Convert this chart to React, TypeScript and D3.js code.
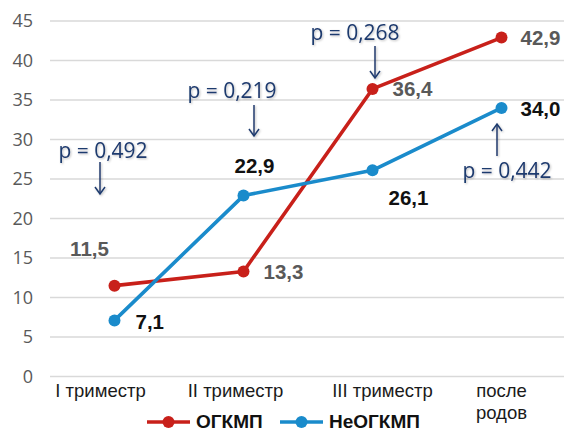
import React from "react";
import * as d3 from "d3";

const categories = ["I триместр", "II триместр", "III триместр", "после родов"];
const ogkmp = [11.5, 13.3, 36.4, 42.9];
const neogkmp = [7.1, 22.9, 26.1, 34.0];
const yTicks = [0, 5, 10, 15, 20, 25, 30, 35, 40, 45];
const pLabels = ["p = 0,492", "p = 0,219", "p = 0,268", "p = 0,442"];
const seriesNames = ["ОГКМП", "НеОГКМП"];

const W = 564, H = 431;
const RED = "#C8201A";
const BLUE = "#1A8BCB";
const NAVY = "#1F3A6E";

export default function App() {
  const x = d3.scaleBand().domain(categories).range([50, 566]);
  const y = d3.scaleLinear().domain([0, 45]).range([376.5, 21]);
  const cx = (i: number) => (x(categories[i]) as number) + x.bandwidth() / 2;
  const line = d3.line<number>().x((_, i) => cx(i)).y((d) => y(d));

  const fmt = (v: number) => v.toFixed(1).replace(".", ",");

  const catShift = [-14, -8, 10, 0];

  // label offsets (relative to point)
  const redLbl: [number, number, string][] = [
    [-25, -37, "middle"], [20, 0, "start"], [20, 0, "start"], [19, 0, "start"],
  ];
  const blueLbl: [number, number, string][] = [
    [21, 1, "start"], [11, -30, "middle"], [36, 27, "middle"], [19, 1, "start"],
  ];
  // p annotations: text pos, arrow from/to
  const pAnn = [
    { tx: 103, ty: 150, ax: 100, a1: 162, a2: 194 },
    { tx: 232, ty: 90, ax: 254, a1: 105, a2: 136 },
    { tx: 355, ty: 32, ax: 375, a1: 46, a2: 78 },
    { tx: 507, ty: 170, ax: 497, a1: 156, a2: 124 },
  ];

  return (
    <svg width={W} height={H} style={{ display: "block", position: "absolute", left: 0, top: 0 }}
      fontFamily="'Liberation Sans', Arial, sans-serif">
      <defs>
        <filter id="sh" x="-10%" y="-20%" width="130%" height="160%">
          <feDropShadow dx="1" dy="1" stdDeviation="0.8" floodColor="#000" floodOpacity="0.25" />
        </filter>
      </defs>
      <rect width={W} height={H} fill="#fff" />
      {yTicks.map((t) => (
        <g key={t}>
          <line x1={50} x2={564} y1={y(t)} y2={y(t)} stroke="#d9d9d9" strokeWidth={1.3} />
          <text x={33} y={y(t)} dy="0.36em" textAnchor="end" fontSize={18} fill="#595959"
            fontFamily="'Open Sans', 'Liberation Sans', sans-serif">{t}</text>
        </g>
      ))}
      {categories.map((c, i) => {
        const parts = c === "после родов" ? ["после", "родов"] : [c];
        const px = cx(i) + catShift[i];
        return (
          <text key={c} x={px} y={390} textAnchor="middle" fontSize={18.5} fill="#1a1a1a">
            {parts.map((p, j) => (
              <tspan key={j} x={px} dy={j === 0 ? "0.36em" : 22}>{p}</tspan>
            ))}
          </text>
        );
      })}
      <path d={line(ogkmp) || ""} fill="none" stroke={RED} strokeWidth={3.6} strokeLinejoin="round" />
      <path d={line(neogkmp) || ""} fill="none" stroke={BLUE} strokeWidth={3.6} strokeLinejoin="round" />
      {ogkmp.map((v, i) => (
        <circle key={"r" + i} cx={cx(i)} cy={y(v)} r={6} fill={RED} />
      ))}
      {neogkmp.map((v, i) => (
        <circle key={"b" + i} cx={cx(i)} cy={y(v)} r={6} fill={BLUE} />
      ))}
      {ogkmp.map((v, i) => (
        <text key={"rl" + i} x={cx(i) + redLbl[i][0]} y={y(v) + redLbl[i][1]} dy="0.36em"
          textAnchor={redLbl[i][2] as any} fontSize={20.5} fontWeight="bold" fill="#595959">{fmt(v)}</text>
      ))}
      {neogkmp.map((v, i) => (
        <text key={"bl" + i} x={cx(i) + blueLbl[i][0]} y={y(v) + blueLbl[i][1]} dy="0.36em"
          textAnchor={blueLbl[i][2] as any} fontSize={20.5} fontWeight="bold" fill="#111">{fmt(v)}</text>
      ))}
      {pAnn.map((a, i) => {
        const dir = a.a2 > a.a1 ? 1 : -1;
        return (
          <g key={"p" + i} filter="url(#sh)">
            <text x={a.tx} y={a.ty} dy="0.36em" textAnchor="middle" fontSize={21} fill={NAVY}
              fontFamily="'Open Sans', 'Liberation Sans', sans-serif">{pLabels[i]}</text>
            <line x1={a.ax} x2={a.ax} y1={a.a1} y2={a.a2} stroke={NAVY} strokeWidth={1.5} />
            <path d={`M${a.ax - 5},${a.a2 - dir * 7} L${a.ax},${a.a2} L${a.ax + 5},${a.a2 - dir * 7}`}
              fill="none" stroke={NAVY} strokeWidth={1.5} />
          </g>
        );
      })}
      {/* legend */}
      {seriesNames.map((n, i) => {
        const x0 = i === 0 ? 147 : 280;
        const col = i === 0 ? RED : BLUE;
        return (
          <g key={n}>
            <line x1={x0} x2={x0 + 43} y1={422} y2={422} stroke={col} strokeWidth={3.6} />
            <circle cx={x0 + 21.5} cy={422} r={6} fill={col} />
            <text x={x0 + 49} y={421} dy="0.36em" fontSize={19} fontWeight="bold" fill="#111">{n}</text>
          </g>
        );
      })}
    </svg>
  );
}
